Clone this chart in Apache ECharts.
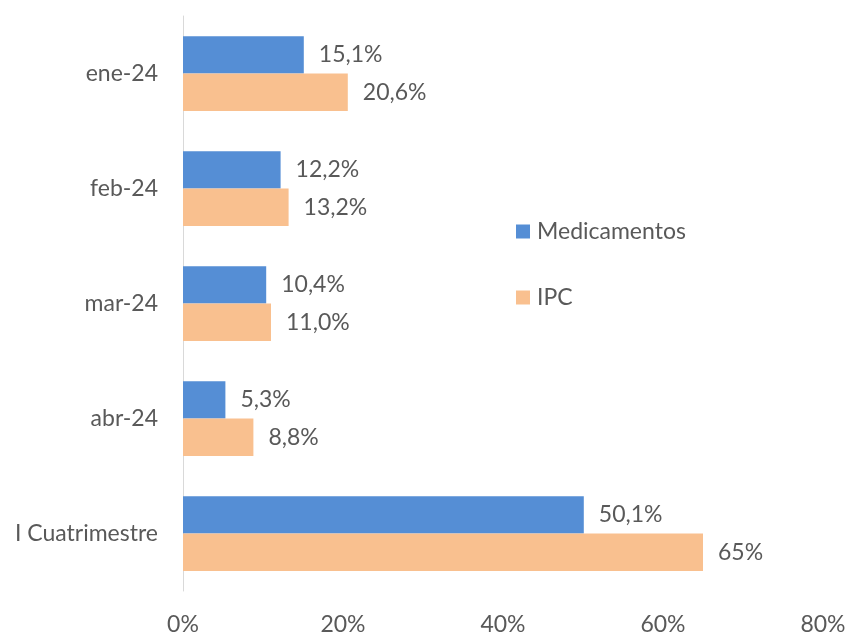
<!DOCTYPE html>
<html><head><meta charset="utf-8">
<script src="https://cdn.jsdelivr.net/npm/echarts@6/dist/echarts.min.js"></script>
<style>html,body{margin:0;padding:0;background:#fff}#c{width:849px;height:636px}</style>
</head><body><div id="c"></div>
<script>
var categories = ['ene-24', 'feb-24', 'mar-24', 'abr-24', 'I Cuatrimestre'];
var medicamentos = [15.1, 12.2, 10.4, 5.3, 50.1];
var ipc = [20.6, 13.2, 11.0, 8.8, 65];
var medLabels = ['15,1%', '12,2%', '10,4%', '5,3%', '50,1%'];
var ipcLabels = ['20,6%', '13,2%', '11,0%', '8,8%', '65%'];
var xTicks = ['0%', '20%', '40%', '60%', '80%'];

var FONT = 'Lato';
var FS = 23;
var chart = echarts.init(document.getElementById('c'), null, {renderer: 'canvas'});
function lbl(arr) {
  return {show: true, position: 'right', distance: 15, color: '#595959', fontFamily: FONT, fontSize: FS,
    formatter: function (p) { return arr[p.dataIndex]; }};
}
chart.setOption({
  animation: false,
  backgroundColor: '#fff',
  grid: {left: 183, right: 26, top: 16, bottom: 42, containLabel: false},
  legend: {
    orient: 'vertical', left: 511, top: 215, itemWidth: 14, itemHeight: 14, itemGap: 43,
    icon: 'rect', textStyle: {color: '#595959', fontFamily: FONT, fontSize: FS, padding: [0, 0, 0, 2]},
    data: ['Medicamentos', 'IPC']
  },
  xAxis: {
    type: 'value', min: 0, max: 80, interval: 20,
    axisLine: {show: false}, axisTick: {show: false}, splitLine: {show: false},
    axisLabel: {color: '#595959', fontFamily: FONT, fontSize: FS, margin: 22,
      formatter: function (v) { return xTicks[Math.round(v / 20)]; }}
  },
  yAxis: {
    type: 'category', data: categories, inverse: true,
    axisLine: {show: true, lineStyle: {color: '#d9d9d9', width: 1}},
    axisTick: {show: false},
    axisLabel: {color: '#595959', fontFamily: FONT, fontSize: FS, margin: 25}
  },
  series: [
    {name: 'Medicamentos', type: 'bar', data: medicamentos, barGap: '0%', barCategoryGap: '35%',
      itemStyle: {color: '#558ED5'}, label: lbl(medLabels)},
    {name: 'IPC', type: 'bar', data: ipc, barGap: '0%', barCategoryGap: '35%',
      itemStyle: {color: '#F9C08F'}, label: lbl(ipcLabels)}
  ]
});
</script></body></html>
